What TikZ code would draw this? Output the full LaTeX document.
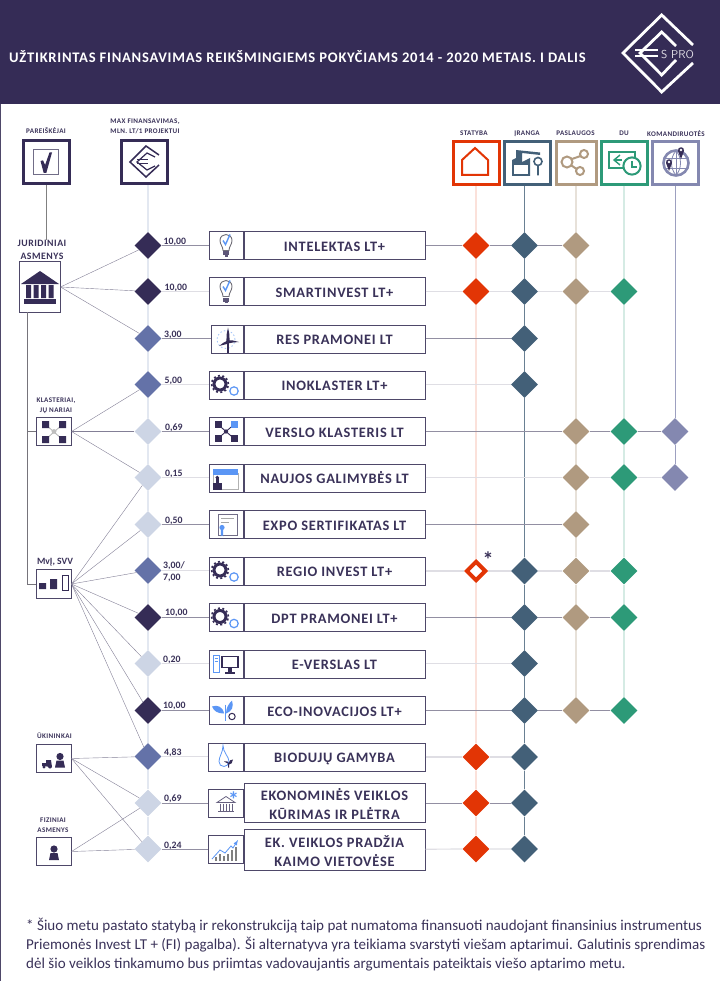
\documentclass[tikz,border=0pt]{standalone}
\usepackage{fontspec}
\usepackage{xcolor}
\usepackage{tikz}
\usetikzlibrary{shapes.geometric}
\setmainfont{Carlito}
\newfontfamily\spacedfont[LetterSpace=5]{Carlito}

\definecolor{navy}{HTML}{352C56}
\definecolor{txtnavy}{HTML}{3A3259}
\definecolor{midblue}{HTML}{6472A8}
\definecolor{paleblue}{HTML}{CDD5E5}
\definecolor{redorange}{HTML}{E23505}
\definecolor{slate}{HTML}{436078}
\definecolor{tan}{HTML}{B09A80}
\definecolor{teal}{HTML}{2D9A78}
\definecolor{peri}{HTML}{8488B0}
\definecolor{accent}{HTML}{5B96F5}
\definecolor{frameline}{HTML}{4E4869}

\tikzset{
  dia/.style={diamond,minimum width=27pt,minimum height=27pt,inner sep=0pt,fill=#1},
  headbox/.style={draw=#1,line width=3pt,fill=white,minimum width=46pt,minimum height=43pt,inner sep=0pt},
  appbox/.style={draw=frameline,line width=1pt,fill=white,minimum width=35pt,minimum height=28.5pt,inner sep=0pt},
  iconbox/.style={draw=frameline,line width=1pt,fill=white,minimum width=34pt,minimum height=28pt,inner sep=0pt},
  namebox/.style={draw=frameline,line width=1pt,fill=white,minimum width=181pt,minimum height=28pt,inner sep=0pt,align=center,
    text=txtnavy,font=\spacedfont\bfseries\fontsize{14.4}{18.6}\selectfont},
  nameone/.style={namebox,text height=11.5pt,text depth=0pt},
  nametext/.style={inner sep=0pt,align=center,text=txtnavy,font=\spacedfont\bfseries\fontsize{14.4}{18.6}\selectfont},
  headlbl/.style={text=txtnavy,inner sep=0pt,align=center,font=\spacedfont\bfseries\fontsize{7.1}{9.6}\selectfont},
  vallbl/.style={text=txtnavy,inner sep=0pt,anchor=west,align=left,font=\bfseries\fontsize{9.8}{12}\selectfont},
  rowdark/.style={draw=black!5!frameline!60!white,line width=.9pt},
  rowlight/.style={draw=frameline!18!white,line width=1.2pt},
  fan/.style={draw=frameline!70!white,line width=.4pt},
  checkicon/.pic={
    \draw[draw=frameline!80!white,line width=1pt] (-12.5,-12.5) rectangle (12.5,12.5);
    \fill[navy] (-5,-1.5) -- (-2.5,-2.2) -- (-.4,2.5) -- (4,-10) -- (6.5,-10) -- (.8,10.5) -- (-1.8,10.5) -- cycle;
  },
  euroicon/.pic={
    \draw[navy,line width=1.5pt,miter limit=10] (15,-7) -- (2,-16) -- (-14,0) -- (2,15) -- (15,3);
    \draw[navy,line width=1.2pt,miter limit=10] (11,-5) -- (3,-9) -- (-7,0) -- (3,8) -- (11,4);
    \draw[navy,line width=1pt] (-7,-2) -- (4,-2) (-7,2) -- (4,2);
  },
  houseicon/.pic={
    \draw[redorange,line width=2pt,miter limit=10] (-1,-15) -- (12,-3) -- (12,12) -- (-14,12) -- (-14,-3) -- cycle;
  },
  gearicon/.pic={
    \draw[navy,line width=3pt] (-6,-1) circle[radius=6pt];
    \draw[navy,line width=1.6pt,dash pattern=on 2pt off 2.4pt] (-6,-1) circle[radius=8.4pt];
    \draw[accent,line width=1.2pt] (8,6) circle[radius=4.2pt];
  },
  bulbicon/.pic={
    \draw[draw=gray!70!frameline,line width=.9pt,fill=white] (-3,5) .. controls (-3,1) and (-6,-1) .. (-6,-5)
      .. controls (-6,-9) and (-3,-11) .. (0,-11) .. controls (3,-11) and (6,-9) .. (6,-5)
      .. controls (6,-1) and (3,1) .. (3,5) -- cycle;
    \fill[navy!80!white] (-3,6) rectangle (3,10);
    \fill[navy!80!white] (-1.5,10) rectangle (1.5,11.5);
    \draw[accent,line width=1.4pt] (-3,-5) -- (-.5,-1) -- (4,-11);
  },
  turbineicon/.pic={
    \draw[accent!55!white,line width=.8pt,dash pattern=on 1.5pt off 2.2pt] (0,1) circle[radius=9pt];
    \draw[navy,line width=1.1pt] (2,3.5) -- (2,14);
    \fill[navy] (.4,4) -- (.6,-4) -- (2,-11) -- (3.4,-4) -- (3.6,3) -- cycle;
    \fill[navy] (1.5,1.8) -- (7,2) -- (13,3.5) -- (7,4) -- (1.5,5) -- cycle;
    \fill[navy] (2,1.8) -- (-3,4.5) -- (-7,7.5) -- (-2,6.2) -- (3,5) -- cycle;
  },
  clustericon/.pic={
    \draw[navy,line width=.9pt] (-8,-7) -- (8,7) (8,-7) -- (-8,7);
    \fill[navy] (-11.5,-10.5) rectangle (-4.5,-3.5);
    \fill[accent] (4.5,-10.5) rectangle (11.5,-3.5);
    \fill[navy] (-11.5,3.5) rectangle (-4.5,10.5);
    \fill[navy] (4.5,3.5) rectangle (11.5,10.5);
    \fill[navy] (0,0) circle[radius=2.2pt];
  },
  windowicon/.pic={
    \draw[draw=gray!60!white,line width=.8pt] (-13,-4) rectangle (12,12);
    \fill[accent] (-13,-8.5) rectangle (12,-3);
    \fill[navy] (-13,5) rectangle (-4,12);
    \fill[navy] (-10,0) rectangle (-7.5,5);
    \fill[navy] (-8.8,0) circle[radius=1.8pt];
  },
  certicon/.pic={
    \draw[draw=frameline!80!white,line width=.8pt] (-8,-10) rectangle (11,11);
    \draw[draw=gray!70!white,line width=.9pt] (-5,-6) -- (8,-6) (-5,-2) -- (3,-2);
    \fill[accent] (-4,3) circle[radius=2.6pt];
    \fill[accent] (-5.2,4) -- (-2.8,4) -- (-2.8,12) -- (-4,10.5) -- (-5.2,12) -- cycle;
  },
  pcicon/.pic={
    \draw[accent,line width=.8pt] (-13,-8) rectangle (-6.5,9);
    \draw[accent,line width=.6pt] (-11.5,-5) -- (-8,-5) (-11.5,-2.5) -- (-8,-2.5);
    \draw[draw=navy,line width=1.8pt] (-4,-7) rectangle (12,4);
    \fill[navy] (2,4) rectangle (6,8);
    \fill[navy] (-1,8) rectangle (9,10);
  },
  sprouticon/.pic={
    \draw[accent,line width=.8pt] (-1,-6) -- (-1,10);
    \fill[accent] (-14,-4) .. controls (-9,-6) and (-3,-4) .. (-2,3) .. controls (-8,3) and (-12,1) .. (-14,-4) -- cycle;
    \fill[accent] (0,3) .. controls (0,-3) and (3,-7) .. (6,-10) .. controls (8,-4) and (6,1) .. (0,3) -- cycle;
    \draw[navy,line width=1pt] (6,6) circle[radius=3.2pt];
  },
  dropicon/.pic={
    \draw[accent,line width=.8pt] (-3,-11) .. controls (-3,-4) and (3,0) .. (3,5)
      .. controls (3,8) and (0,10) .. (-2,10) .. controls (-5,10) and (-7,8) .. (-7,5) .. controls (-7,0) and (-3,-4) .. (-3,-11) -- cycle;
    \fill[navy] (2,11) -- (2,7) -- (-2,5) .. controls (1,4) and (2,5) .. (2.6,6.5) .. controls (3,4) and (5,3) .. (7,3) .. controls (7,6) and (5,8) .. (3,8) -- (3,11) -- cycle;
  },
  bankstaricon/.pic={
    \draw[draw=navy!75!white,line width=.8pt] (-9,-1) -- (0,-7) -- (9,-1) -- cycle;
    \draw[draw=navy!75!white,line width=.9pt] (-6,0) -- (-6,7) (-3,0) -- (-3,7) (0,0) -- (0,7) (3,0) -- (3,7) (6,0) -- (6,7);
    \draw[draw=navy!75!white,line width=.9pt] (-8,8) -- (8,8);
    \node[accent,inner sep=0pt,font=\bfseries\fontsize{22}{22}\selectfont] (starmark) at (7.5,-4) {*};
  },
  charticon/.pic={
    \draw[gray,line width=1.4pt] (-10,12) -- (-10,8) (-6,12) -- (-6,5) (-2,12) -- (-2,7) (2,12) -- (2,5) (6,12) -- (6,1) (10,12) -- (10,-2);
    \draw[accent,line width=.8pt,-latex] (-14,10) -- (-6,1) -- (-1,4) -- (5,-3) -- (7,-1) -- (12,-9);
  },
  personicon/.pic={
    \fill[navy] (0,-4) circle[radius=3.6pt];
    \fill[navy] (-5,7) -- (-3.5,0) -- (3.5,0) -- (5,7) -- cycle;
  }
}

\begin{document}
\begin{tikzpicture}[x=1pt,y=-1pt]
\useasboundingbox (0,0) rectangle (720,981);

% page band and logo
\fill[navy] (0,0) rectangle (720,104.5);
\fill[frameline] (0,104) rectangle (1,981);
\node[anchor=west,inner sep=0pt,text=white,font=\spacedfont\bfseries\fontsize{14.6}{16}\selectfont] (title) at (9,57)
{UŽTIKRINTAS FINANSAVIMAS REIKŠMINGIEMS POKYČIAMS 2014 - 2020 METAIS. I DALIS};
\draw[white,line width=2.8pt,miter limit=10] (693,45) -- (661.7,15) -- (623,53) -- (661.7,92) -- (693,63);
\draw[white,line width=2.8pt,miter limit=10] (676,46) -- (661.7,32) -- (640,53) -- (661.7,75) -- (676,60);
\draw[white,line width=1.8pt] (635,50) -- (658,50) (635,56) -- (658,56);
\node[anchor=west,inner sep=0pt,text=white!85!navy,font=\sffamily\fontsize{11.5}{12}\selectfont] (logotext) at (661,54.5) {S PRO};

% column heads
\node[headlbl] (lblpar) at (46,131) {PAREIŠKĖJAI};
\node[headlbl] (lblmax) at (145,126.5) {MAX FINANSAVIMAS,\\MLN. LT/1 PROJEKTUI};
\node[headlbl] (lblsta) at (474,133.5) {STATYBA};
\node[headlbl] (lblira) at (527,133.5) {ĮRANGA};
\node[headlbl] (lblpas) at (575.5,133.5) {PASLAUGOS};
\node[headlbl] (lbldu) at (624,133.5) {DU};
\node[headlbl] (lblkom) at (676,134) {KOMANDIRUOTĖS};
\node[headbox=navy] (hpar) at (46.5,162.5) {};
\node[headbox=navy] (hmax) at (144,162.5) {};
\node[headbox=redorange] (hsta) at (476,163) {};
\node[headbox=slate] (hira) at (527.5,163) {};
\node[headbox=tan,minimum width=40pt] (hpas) at (576,163) {};
\node[headbox=teal] (hdu) at (624.5,163) {};
\node[headbox=peri] (hkom) at (675.5,163) {};
\pic at (45.5,162.5) {checkicon};
\pic at (144,162) {euroicon};
\pic at (476,163) {houseicon};
% equipment
\fill[slate] (512,176) -- (512,160) -- (516,158) -- (516,150) -- (540,152.5) -- (540,155) -- (522,153) -- (522,162) -- (530,158) -- (530,176) -- cycle;
\fill[white] (514,165) rectangle (528,174);
\draw[slate,line width=1.6pt] (538,161.5) circle[radius=4pt] (538,165.5) -- (538,175.5);
% shared services
\draw[tan,line width=2pt] (567,162) circle[radius=5.5pt] (584,154) circle[radius=4pt] (580,171) circle[radius=4pt];
\draw[tan,line width=2pt] (572,159) -- (580.5,156) (571.5,165.5) -- (576.5,169);
% wage and clock
\draw[teal,line width=1.8pt] (609,152) rectangle (635,168);
\draw[teal,line width=1.4pt] (620,155) -- (614,160) -- (620,165);
\fill[teal] (615,159) rectangle (622,161);
\draw[teal,line width=2pt,fill=white] (632,166) circle[radius=8.6pt];
\draw[teal,line width=1.4pt] (632,161) -- (632,167) -- (637,167);
% globe
\draw[peri,line width=2.6pt] (676,163) circle[radius=12.5pt];
\draw[peri,line width=.8pt] (664,158) -- (688,158) (664,168) -- (688,168) (676,151) -- (676,175);
\draw[peri,line width=.8pt] (676,151) .. controls (670,157) and (670,169) .. (676,175) (676,151) .. controls (682,157) and (682,169) .. (676,175);
\fill[navy] (678,151) .. controls (677,146) and (685,146) .. (684,151) -- (681,159) -- cycle;
\fill[navy] (666,163) .. controls (665,158) and (673,158) .. (672,163) -- (669,171) -- cycle;
\fill[white] (681,150) circle[radius=1.3pt] (669,162) circle[radius=1.3pt];

% funding diamonds
\node[dia=navy] (d1) at (148,245.5) {};
\node[dia=navy] (d2) at (148,291.5) {};
\node[dia=midblue] (d3) at (148,338.5) {};
\node[dia=midblue] (d4) at (148,384.5) {};
\node[dia=paleblue] (d5) at (148,431.5) {};
\node[dia=paleblue] (d6) at (148,477.5) {};
\node[dia=paleblue] (d7) at (148,524.5) {};
\node[dia=midblue] (d8) at (148,570.5) {};
\node[dia=navy] (d9) at (148,617.5) {};
\node[dia=paleblue] (d10) at (148,663.5) {};
\node[dia=navy] (d11) at (148,710.5) {};
\node[dia=midblue] (d12) at (148,756.5) {};
\node[dia=paleblue] (d13) at (148,803) {};
\node[dia=paleblue] (d14) at (148,849) {};

% funding values
\node[vallbl] (v1) at (163.5,241.5) {10,00};
\node[vallbl] (v2) at (164.5,287.5) {10,00};
\node[vallbl] (v3) at (164,334.5) {3,00};
\node[vallbl] (v4) at (164.5,380.5) {5,00};
\node[vallbl] (v5) at (165,427.5) {0,69};
\node[vallbl] (v6) at (165,473.5) {0,15};
\node[vallbl] (v7) at (165,520.5) {0,50};
\node[vallbl] (v8) at (163,571.5) {3,00/\\7,00};
\node[vallbl] (v9) at (165,612.5) {10,00};
\node[vallbl] (v10) at (163,659.5) {0,20};
\node[vallbl] (v11) at (163,705.5) {10,00};
\node[vallbl] (v12) at (164,752.5) {4,83};
\node[vallbl] (v13) at (164,798.5) {0,69};
\node[vallbl] (v14) at (164,845.5) {0,24};

% programme rows
\node[iconbox] (i1) at (226,245.5) {};
\node[iconbox] (i2) at (226,291.5) {};
\node[iconbox,minimum width=32pt] (i3) at (227,339) {};
\node[iconbox] (i4) at (226,385) {};
\node[iconbox] (i5) at (226,431.5) {};
\node[iconbox] (i6) at (226,478) {};
\node[iconbox] (i7) at (226,524.5) {};
\node[iconbox] (i8) at (226,571) {};
\node[iconbox] (i9) at (226,617.5) {};
\node[iconbox] (i10) at (226,664) {};
\node[iconbox] (i11) at (226,710.5) {};
\node[iconbox,minimum width=35pt] (i12) at (226,757) {};
\node[iconbox,minimum width=35pt] (i13) at (226,803) {};
\node[iconbox,minimum width=35pt] (i14) at (226,849) {};
\node[nameone] (n1) at (334.5,245.5) {INTELEKTAS LT+};
\node[nameone] (n2) at (334.5,291.5) {SMARTINVEST LT+};
\node[nameone] (n3) at (334.5,339) {RES PRAMONEI LT};
\node[nameone] (n4) at (334.5,385) {INOKLASTER LT+};
\node[nameone] (n5) at (334.5,431.5) {VERSLO KLASTERIS LT};
\node[nameone] (n6) at (334.5,478) {NAUJOS GALIMYBĖS LT};
\node[nameone] (n7) at (334.5,524.5) {EXPO SERTIFIKATAS LT};
\node[nameone] (n8) at (334.5,571) {REGIO INVEST LT+};
\node[nameone] (n9) at (334.5,617.5) {DPT PRAMONEI LT+};
\node[nameone] (n10) at (334.5,664) {E-VERSLAS LT};
\node[nameone] (n11) at (334.5,710.5) {ECO-INOVACIJOS LT+};
\node[nameone] (n12) at (334.5,757) {BIODUJŲ GAMYBA};
\node[namebox,minimum height=39pt] (n13) at (334.5,803) {};
\node[namebox,minimum height=41pt] (n14) at (334.5,849.5) {};
\node[nametext] (t13) at (334.5,804) {EKONOMINĖS VEIKLOS\\KŪRIMAS IR PLĖTRA};
\node[nametext] (t14) at (334.5,851) {EK. VEIKLOS PRADŽIA\\KAIMO VIETOVĖSE};
\pic at (226,245.5) {bulbicon};
\pic at (226,291.5) {bulbicon};
\pic at (226,338.5) {turbineicon};
\pic at (226,385) {gearicon};
\pic at (226,431.5) {clustericon};
\pic at (226,477.5) {windowicon};
\pic at (226,524.5) {certicon};
\pic at (226,571) {gearicon};
\pic at (226,617.5) {gearicon};
\pic at (226,663.5) {pcicon};
\pic at (226,710.5) {sprouticon};
\pic at (226,756.5) {dropicon};
\pic at (226,803.5) {bankstaricon};
\pic at (226,849) {charticon};

% support kinds
\node[dia=redorange] (s1) at (476,245.5) {};
\node[dia=slate] (j1) at (524.5,245.5) {};
\node[dia=tan] (p1) at (576,245.5) {};
\node[dia=redorange] (s2) at (476,291.5) {};
\node[dia=slate] (j2) at (524.5,291.5) {};
\node[dia=tan] (p2) at (576,291.5) {};
\node[dia=teal] (u2) at (624,291.5) {};
\node[dia=slate] (j3) at (524.5,338.5) {};
\node[dia=slate] (j4) at (524.5,384.5) {};
\node[dia=tan] (p5) at (576,431.5) {};
\node[dia=teal] (u5) at (624,431.5) {};
\node[dia=peri] (k5) at (675,431.5) {};
\node[dia=tan] (p6) at (576,477.5) {};
\node[dia=teal] (u6) at (624,477.5) {};
\node[dia=peri] (k6) at (675,477.5) {};
\node[dia=tan] (p7) at (576,524.5) {};
\node[diamond,draw=redorange,line width=4pt,fill=white,minimum width=20pt,minimum height=20pt,inner sep=0pt] (s8) at (476,571) {};
\node[dia=slate] (j8) at (524.5,571) {};
\node[dia=tan] (p8) at (576,571) {};
\node[dia=teal] (u8) at (624,571) {};
\node[dia=slate] (j9) at (524.5,617.5) {};
\node[dia=tan] (p9) at (576,617.5) {};
\node[dia=teal] (u9) at (624,617.5) {};
\node[dia=slate] (j10) at (524.5,663.5) {};
\node[dia=slate] (j11) at (524.5,710.5) {};
\node[dia=tan] (p11) at (576,710.5) {};
\node[dia=teal] (u11) at (624,710.5) {};
\node[dia=redorange] (s12) at (476,757) {};
\node[dia=slate] (j12) at (524.5,757) {};
\node[dia=redorange] (s13) at (476,803) {};
\node[dia=slate] (j13) at (524.5,803) {};
\node[dia=redorange] (s14) at (476,849) {};
\node[dia=slate] (j14) at (524.5,849) {};
\node[text=txtnavy,inner sep=0pt,font=\bfseries\fontsize{22}{22}\selectfont] (starnote) at (488,559.5) {*};

% applicants
\node[inner sep=0pt,align=center,text=txtnavy,font=\spacedfont\bfseries\fontsize{9.8}{13}\selectfont] (lbljur) at (42,250) {JURIDINIAI\\ASMENYS};
\node[headlbl] (lblkla) at (56,406) {KLASTERIAI,\\JŲ NARIAI};
\node[inner sep=0pt,text=txtnavy,font=\bfseries\fontsize{9.6}{11}\selectfont] (lblmvj) at (55,562) {MvĮ, SVV};
\node[headlbl] (lbluki) at (54.5,736) {ŪKININKAI};
\node[headlbl] (lblfiz) at (53,825) {FIZINIAI\\ASMENYS};
\node[appbox,minimum width=41pt,minimum height=50pt] (ajur) at (39.5,287) {};
\node[appbox] (akla) at (53.5,431.5) {};
\node[appbox] (amvj) at (53.5,584) {};
\node[appbox] (auki) at (53.5,758.5) {};
\node[appbox] (afiz) at (53.5,851.5) {};
% bank
\fill[navy] (21,284) -- (40,271) -- (59,284) -- cycle;
\fill[navy] (26,285) rectangle (31,298) (33.5,285) rectangle (38.5,298) (41,285) rectangle (46,298) (48.5,285) rectangle (53.5,298);
\fill[navy] (24,298.5) rectangle (56,304);
% cluster
\draw[gray!60!white,line width=.8pt] (45.5,424.5) -- (62.5,439.5) (62.5,424.5) -- (45.5,439.5);
\fill[navy] (42,421) rectangle (49,428) (59,421) rectangle (66,428) (42,436) rectangle (49,443) (59,436) rectangle (66,443);
\fill[gray!50!white] (54,431.5) circle[radius=2.4pt];
% bars
\fill[navy] (39,583) rectangle (46,589) (50,579) rectangle (57,589);
\draw[navy,line width=.8pt] (62,575) rectangle (68,590);
% farmer
\pic at (60,760.5) {personicon};
\fill[navy] (42,763) -- (46,763) -- (46,760) -- (51,760) -- (52,767) -- (42,766) -- cycle;
\fill[navy] (44,767) circle[radius=1.6pt] (50,766.5) circle[radius=2pt];
% person
\pic at (54,853) {personicon};

% connectors, column lines
\draw[paleblue!55!white,line width=1.5pt] (hmax.south -| d1) -- (d1) -- (d2) -- (d3) -- (d4) -- (d5) -- (d6) -- (d7) -- (d8) -- (d9) -- (d10) -- (d11) -- (d12) -- (d13) -- (d14);
\draw[redorange!15!white,line width=1.5pt] (hsta) -- (s1) -- (s2) -- (s8) -- (s12) -- (s13) -- (s14);
\draw[slate!80!white,line width=1pt] (hira.south -| j1) -- (j1) -- (j2) -- (j3) -- (j4) -- (j8) -- (j9) -- (j10) -- (j11) -- (j12) -- (j13) -- (j14);
\draw[tan!30!white,line width=1.5pt] (hpas) -- (p1) -- (p2) -- (p5) -- (p6) -- (p7) -- (p8) -- (p9) -- (p11);
\draw[teal!20!white,line width=1.5pt] (hdu.south -| u2) -- (u2) -- (u5) -- (u6) -- (u8) -- (u9) -- (u11);
\draw[peri!80!white,line width=1pt] (hkom.south -| k5) -- (k5) -- (k6);

% connectors, rows
\draw[rowdark] (d1) -- (i1) (n1) -- (s1) -- (j1) -- (p1);
\draw[rowlight] (d2) -- (i2) (n2) -- (s2) -- (j2) -- (p2) -- (u2);
\draw[rowdark] (d3) -- (i3.west |- d3) (n3.east |- j3) -- (j3);
\draw[rowlight] (d4) -- (i4.west |- d4) (n4.east |- j4) -- (j4);
\draw[rowdark] (d5) -- (i5) (n5) -- (p5) -- (u5) -- (k5);
\draw[rowlight] (d6) -- (i6.west |- d6) (n6.east |- p6) -- (p6) -- (u6) -- (k6);
\draw[rowdark] (d7) -- (i7) (n7) -- (p7);
\draw[rowlight] (d8) -- (i8.west |- d8) (n8) -- (s8) -- (j8) -- (p8) -- (u8);
\draw[rowdark] (d9) -- (i9) (n9) -- (j9) -- (p9) -- (u9);
\draw[rowlight] (d10) -- (i10.west |- d10) (n10.east |- j10) -- (j10);
\draw[rowdark] (d11) -- (i11) (n11) -- (j11) -- (p11) -- (u11);
\draw[rowlight] (d12) -- (i12.west |- d12) (n12) -- (s12) -- (j12);
\draw[rowdark] (d13) -- (i13) (n13) -- (s13) -- (j13);
\draw[rowlight] (n14) -- (s14) -- (j14);
\draw[rowdark] (d14) -- (i14);

% connectors, applicants
\coordinate (trunktop) at (27,312);
\coordinate (trunkbot) at (27,584);
\draw[draw=gray,line width=.9pt] (hpar.south) -- (hpar.south |- lbljur.north);
\draw[draw=gray!80!frameline,line width=.9pt] (trunktop) -- (trunkbot) -- (amvj);
\draw[draw=gray!80!frameline,line width=.9pt] (trunktop |- akla) -- (akla);
\draw[fan] (ajur.east) -- (d1);
\draw[fan] (ajur.east) -- (d2);
\draw[fan] (ajur.east) -- (d3);
\draw[fan] (akla.east) -- (d4);
\draw[fan] (akla.east) -- (d5);
\draw[fan] (akla.east) -- (d6);
\draw[fan] (amvj.east) -- (d6);
\draw[fan] (amvj.east) -- (d7);
\draw[fan] (amvj.east) -- (d8);
\draw[fan] (amvj.east) -- (d9);
\draw[fan] (amvj.east) -- (d10);
\draw[fan] (amvj.east) -- (d11);
\draw[fan] (amvj.east) -- (d12);
\draw[fan] (auki.east) -- (d12);
\draw[fan] (auki.east) -- (d13);
\draw[fan] (auki.east) -- (d14);
\draw[fan] (afiz.east) -- (d13);
\draw[fan] (afiz.east) -- (d14);

% footnote
\node[anchor=north west,inner sep=0pt,text=txtnavy,align=left,font=\fontsize{15.05}{19}\selectfont] (note) at (26,917.5)
{* Šiuo metu pastato statybą ir rekonstrukciją taip pat numatoma finansuoti naudojant finansinius instrumentus\\
Priemonės Invest LT + (FI) pagalba). Ši alternatyva yra teikiama svarstyti viešam aptarimui. Galutinis sprendimas\\
dėl šio veiklos tinkamumo bus priimtas vadovaujantis argumentais pateiktais viešo aptarimo metu.};
\end{tikzpicture}
\end{document}
